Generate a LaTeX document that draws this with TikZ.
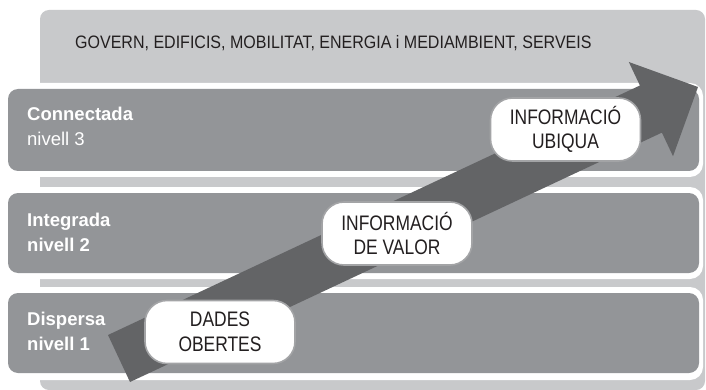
\documentclass[tikz,border=0pt]{standalone}
\usepackage{fontspec}
\setmainfont{Liberation Sans}
\newfontfamily\condfont[FakeStretch=0.83]{Liberation Sans}
\newfontfamily\topfont[FakeStretch=0.89]{Liberation Sans}
\definecolor{bglight}{HTML}{C8C9CB}
\definecolor{banddark}{HTML}{939598}
\definecolor{arrowdark}{HTML}{636466}
\definecolor{txtdark}{HTML}{231F20}
\definecolor{boxline}{HTML}{A3A4A6}
\tikzset{
  bandfill/.style={fill=banddark, rounded corners=10pt},
  bandedge/.style={fill=white, rounded corners=13pt},
  bandtitle/.style={anchor=base west, inner sep=0pt, text=white, font=\fontsize{18.5}{22}\selectfont\bfseries},
  bandsub/.style={anchor=base west, inner sep=0pt, text=white, font=\fontsize{18.5}{22}\selectfont},
  infobox/.style={draw=boxline, line width=1.6pt, fill=white, rounded corners=22pt,
    minimum width=150pt, minimum height=63pt, align=center, text=txtdark,
    font=\condfont\fontsize{21}{24.5}\selectfont, inner sep=0pt},
}
\begin{document}
\begin{tikzpicture}[x=1pt,y=-1pt]
\useasboundingbox (0,0) rectangle (706,390);
% light background
\fill[bglight, rounded corners=9pt] (40,10) rectangle (705,390);
% bands
\fill[bandedge] (2,83) rectangle (703,177);
\fill[bandfill] (8,89) rectangle (699,171);
\fill[bandedge] (2,187) rectangle (703,279);
\fill[bandfill] (8,193) rectangle (699,273);
\fill[bandedge] (2,287) rectangle (703,380);
\fill[bandfill] (8,293) rectangle (699,373);
% top text
\node[anchor=base west, inner sep=0pt, text=txtdark, font=\topfont\fontsize{18}{22}\selectfont] (top) at (75,49)
  {GOVERN, EDIFICIS, MOBILITAT, ENERGIA i MEDIAMBIENT, SERVEIS};
% band labels
\node[bandtitle] (l3a) at (27,121) {Connectada};
\node[bandsub]   (l3b) at (27,146) {nivell 3};
\node[bandtitle] (l2a) at (27,226) {Integrada};
\node[bandtitle] (l2b) at (27,251) {nivell 2};
\node[bandtitle] (l1a) at (27,325) {Dispersa};
\node[bandtitle] (l1b) at (27,350) {nivell 1};
% arrow
\coordinate (t1) at (108.0,335.0);
\coordinate (t2) at (130.0,382.0);
\coordinate (s1) at (639.9,85.5);
\coordinate (s2) at (661.9,132.6);
\coordinate (b1) at (628.8,62.0);
\coordinate (b2) at (673.0,156.2);
\coordinate (tip) at (698,87);
\fill[arrowdark] (t1) -- (s1) -- (b1) -- (tip) -- (b2) -- (s2) -- (t2) -- cycle;
% boxes
\node[infobox] (b1box) at (220,332) {DADES\\OBERTES};
\node[infobox] (b2box) at (397,233.5) {INFORMACIÓ\\DE VALOR};
\node[infobox] (b3box) at (565.5,129.5) {INFORMACIÓ\\UBIQUA};
\end{tikzpicture}
\end{document}
